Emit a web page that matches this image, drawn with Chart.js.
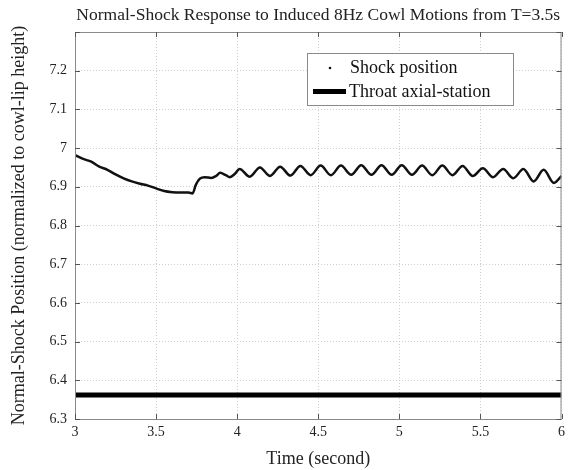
<!DOCTYPE html>
<html lang="en">
<head>
    <meta charset="UTF-8">
    <title>Normal-Shock Response</title>
    <script src="https://cdn.jsdelivr.net/npm/chart.js"></script>
    <style>
        body {
            margin: 0;
            background-color: #fff;
        }
        .wrap {
            position: relative;
            width: 570px;
            height: 470px;
        }
    </style>
</head>
<body>
    <div class="wrap">
        <canvas id="shockChart" width="570" height="470"></canvas>
    </div>

    <script>
        // Shock position (time in s, position normalized to cowl-lip height)
        const shockTime = [
            3.00, 3.05, 3.10, 3.15, 3.20, 3.25, 3.30, 3.35, 3.40, 3.45,
            3.50, 3.55, 3.60, 3.65, 3.70, 3.725, 3.745, 3.77, 3.80, 3.84,
            3.87, 3.895, 3.93, 3.955, 3.985,
            4.015, 4.078, 4.14, 4.203, 4.265, 4.328, 4.39, 4.453, 4.515, 4.578,
            4.64, 4.703, 4.765, 4.828, 4.89, 4.953, 5.015, 5.078, 5.14, 5.203,
            5.265, 5.328, 5.39, 5.453, 5.515, 5.578, 5.64, 5.703, 5.765, 5.828,
            5.89, 5.953, 6.00
        ];
        const shockPos = [
            6.982, 6.972, 6.965, 6.952, 6.944, 6.932, 6.922, 6.914, 6.908, 6.903,
            6.896, 6.889, 6.886, 6.885, 6.885, 6.883, 6.905, 6.921, 6.925, 6.923,
            6.928, 6.936, 6.930, 6.925, 6.933,
            6.946, 6.926, 6.950, 6.928, 6.952, 6.929, 6.954, 6.930, 6.955, 6.930,
            6.955, 6.931, 6.956, 6.931, 6.956, 6.931, 6.956, 6.931, 6.955, 6.930,
            6.955, 6.930, 6.954, 6.928, 6.948, 6.925, 6.946, 6.922, 6.946, 6.914,
            6.944, 6.910, 6.928
        ];

        // Throat axial-station (constant)
        const throatTime = [3, 6];
        const throatPos = [6.362, 6.362];

        const xTicks = [3, 3.5, 4, 4.5, 5, 5.5, 6];
        const yMin = 6.3;
        const yMax = 7.3;

        const serif = '"Liberation Serif", "Times New Roman", serif';

        // Frame, inward tick marks and the boxed legend inside the axes
        const matlabFrame = {
            id: 'matlabFrame',
            afterDraw(chart) {
                const { ctx, chartArea: a, scales } = chart;
                ctx.save();
                ctx.strokeStyle = '#8a8a8a';
                ctx.lineWidth = 1;
                ctx.strokeRect(a.left + 0.5, a.top + 0.5, a.right - a.left - 1, a.bottom - a.top);

                ctx.strokeStyle = '#555';
                ctx.beginPath();
                scales.x.ticks.forEach(t => {
                    const px = Math.round(scales.x.getPixelForValue(t.value)) + 0.5;
                    ctx.moveTo(px, a.bottom); ctx.lineTo(px, a.bottom - 5);
                    ctx.moveTo(px, a.top); ctx.lineTo(px, a.top + 5);
                });
                scales.y.ticks.forEach(t => {
                    const py = Math.round(scales.y.getPixelForValue(t.value)) + 0.5;
                    ctx.moveTo(a.left, py); ctx.lineTo(a.left + 5, py);
                    ctx.moveTo(a.right, py); ctx.lineTo(a.right - 5, py);
                });
                ctx.stroke();

                // legend
                const ds = chart.data.datasets;
                const bx = 307, by = 53, bw = 206, bh = 52;
                ctx.fillStyle = '#fff';
                ctx.fillRect(bx, by, bw, bh);
                ctx.strokeStyle = '#8a8a8a';
                ctx.strokeRect(bx + 0.5, by + 0.5, bw, bh);

                ctx.font = '18px ' + serif;
                ctx.fillStyle = '#111';
                ctx.textBaseline = 'middle';
                ctx.textAlign = 'left';

                ctx.beginPath();
                ctx.arc(330, 68, 1.3, 0, Math.PI * 2);
                ctx.fill();
                ctx.fillText(ds[0].label, 350, 68);

                ctx.fillStyle = '#000';
                ctx.fillRect(313, 89, 33, 5);
                ctx.fillStyle = '#111';
                ctx.fillText(ds[1].label, 349, 92);
                ctx.restore();
            }
        };

        const ctx = document.getElementById('shockChart').getContext('2d');
        new Chart(ctx, {
            type: 'line',
            data: {
                datasets: [
                    {
                        label: 'Shock position',
                        data: shockTime.map((t, i) => ({ x: t, y: shockPos[i] })),
                        borderColor: '#111',
                        borderWidth: 2.5,
                        pointRadius: 0,
                        cubicInterpolationMode: 'monotone',
                        fill: false
                    },
                    {
                        label: 'Throat axial-station',
                        data: throatTime.map((t, i) => ({ x: t, y: throatPos[i] })),
                        borderColor: '#000',
                        borderWidth: 5,
                        pointRadius: 0,
                        fill: false
                    }
                ]
            },
            options: {
                responsive: false,
                animation: false,
                layout: {
                    padding: { left: 0, right: 4, top: 0, bottom: 0 }
                },
                plugins: {
                    legend: { display: false },
                    tooltip: { enabled: false },
                    title: {
                        display: true,
                        fullSize: false,
                        text: 'Normal-Shock Response to Induced 8Hz Cowl Motions from T=3.5s',
                        color: '#222',
                        font: { family: serif, size: 17.5, weight: 'normal' },
                        padding: { top: 5, bottom: 6 }
                    }
                },
                scales: {
                    x: {
                        type: 'linear',
                        min: 3,
                        max: 6,
                        afterBuildTicks: scale => {
                            scale.ticks = xTicks.map(v => ({ value: v }));
                        },
                        afterFit: scale => { scale.height = 51; },
                        ticks: {
                            color: '#222',
                            font: { family: serif, size: 14 },
                            padding: 5,
                            maxRotation: 0,
                            callback: v => String(v)
                        },
                        grid: {
                            color: '#cfcfcf',
                            tickLength: 0,
                            drawTicks: false
                        },
                        border: { display: false, dash: [1, 2] },
                        title: {
                            display: true,
                            text: 'Time (second)',
                            color: '#222',
                            font: { family: serif, size: 18 },
                            padding: { top: 3, bottom: 0 }
                        }
                    },
                    y: {
                        type: 'linear',
                        min: yMin,
                        max: yMax,
                        afterFit: scale => { scale.width = 75; },
                        ticks: {
                            stepSize: 0.1,
                            color: '#222',
                            font: { family: serif, size: 14 },
                            padding: 8,
                            callback: v => {
                                const r = Number(v.toFixed(1));
                                return r >= 7.3 ? '' : String(r);
                            }
                        },
                        grid: {
                            color: '#cfcfcf',
                            tickLength: 0,
                            drawTicks: false
                        },
                        border: { display: false, dash: [1, 2] },
                        title: {
                            display: true,
                            text: 'Normal-Shock Position (normalized to cowl-lip height)',
                            color: '#222',
                            font: { family: serif, size: 18 },
                            padding: { top: 8, bottom: 4 }
                        }
                    }
                }
            },
            plugins: [matlabFrame]
        });
    </script>
</body>
</html>
